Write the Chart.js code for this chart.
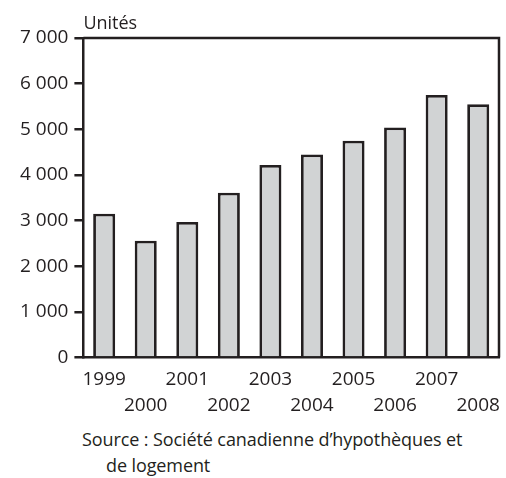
<!DOCTYPE html>
<html lang="fr">
<head>
<meta charset="utf-8">
<script src="https://cdn.jsdelivr.net/npm/chart.js@4/dist/chart.umd.min.js"></script>
<style>
  html, body { margin: 0; padding: 0; background: #fff; }
  #wrap { position: relative; width: 506px; height: 478px; }
  #box { position: absolute; left: 0; top: 0; width: 506px; height: 420px; }
  #source {
    position: absolute; left: 82px; top: 426px;
    font: 18px "Open Sans", sans-serif; color: #231f20; line-height: 26px;
    letter-spacing: -0.1px;
  }
  #source .l2 { padding-left: 24px; }
</style>
</head>
<body>
<div id="wrap">
  <div id="box"><canvas id="chart"></canvas></div>
  <div id="source">Source : Société canadienne d’hypothèques et<div class="l2">de logement</div></div>
</div>
<script>
// housing starts per year
const years = ['1999', '2000', '2001', '2002', '2003', '2004', '2005', '2006', '2007', '2008'];
const units = [3150, 2560, 2970, 3610, 4220, 4450, 4750, 5040, 5750, 5550];
const yTicks = [0, 1000, 2000, 3000, 4000, 5000, 6000, 7000];

const ink = '#231f20';
const font = { family: '"Open Sans", sans-serif', size: 19 };

// odd years on the first row, even years on the second
const xLabels = years.map((y, i) => i % 2 === 0 ? [y, ''] : ['', y]);

const fmt = v => String(v).replace(/\B(?=(\d{3})+(?!\d))/g, ' ');

// closes the frame on top/right and puts the unit label above the axis
const framePlugin = {
  id: 'frame',
  afterDraw(chart) {
    const { ctx, chartArea: a } = chart;
    ctx.save();
    ctx.strokeStyle = ink;
    ctx.lineWidth = 2.5;
    ctx.beginPath();
    ctx.moveTo(a.left, a.top);
    ctx.lineTo(a.right, a.top);
    ctx.lineTo(a.right, a.bottom);
    ctx.stroke();
    ctx.fillStyle = ink;
    ctx.font = '18px "Open Sans", sans-serif';
    ctx.textBaseline = 'alphabetic';
    ctx.fillText('Unités', a.left, a.top - 9);
    ctx.restore();
  }
};

new Chart(document.getElementById('chart'), {
  type: 'bar',
  data: {
    labels: xLabels,
    datasets: [{
      data: units,
      backgroundColor: '#d1d3d4',
      borderColor: ink,
      borderWidth: 2.8,
      barPercentage: 0.53,
      categoryPercentage: 1
    }]
  },
  options: {
    responsive: true,
    maintainAspectRatio: false,
    animation: false,
    layout: { padding: { left: 14, right: 7, top: 38, bottom: 0 } },
    plugins: { legend: { display: false }, tooltip: { enabled: false } },
    scales: {
      x: {
        grid: { display: false },
        border: { display: true, color: ink, width: 2.5 },
        ticks: { color: ink, font: { ...font, lineHeight: 1.38 }, padding: 1, maxRotation: 0, autoSkip: false }
      },
      y: {
        min: 0,
        max: 7000,
        afterBuildTicks: axis => { axis.ticks = yTicks.map(v => ({ value: v })); },
        grid: { drawOnChartArea: false, drawTicks: true, tickLength: 9, color: ink, lineWidth: 2.5 },
        border: { display: true, color: ink, width: 2.5 },
        ticks: { color: ink, font, padding: 6, callback: v => fmt(v) }
      }
    }
  },
  plugins: [framePlugin]
});
</script>
</body>
</html>
